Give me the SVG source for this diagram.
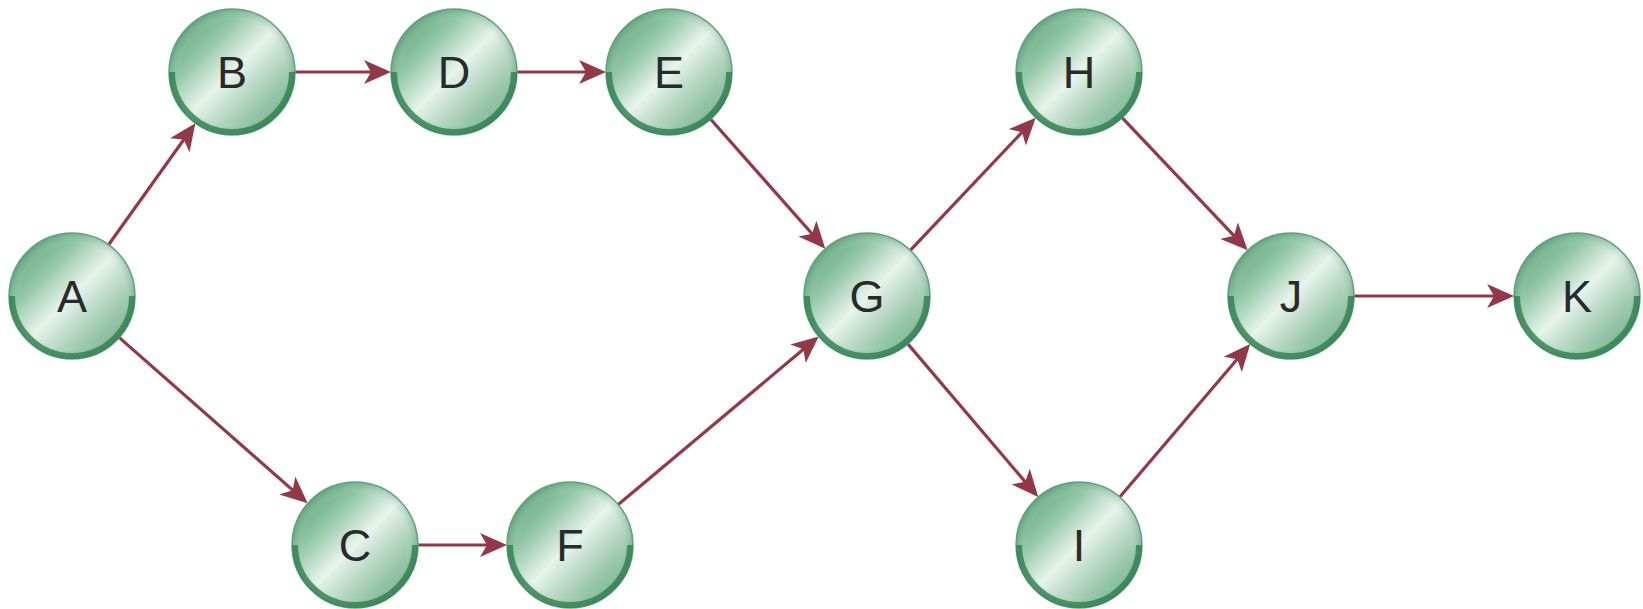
<svg xmlns="http://www.w3.org/2000/svg" width="1643" height="609" viewBox="0 0 1643 609">
<style>
.ball{fill:url(#ballGrad);stroke:#6aa684;stroke-width:1.5}
.shine{fill:url(#shineGrad)}
.rim{fill:none;stroke:#2f7f50;stroke-width:6;opacity:0.8}
.lbl{font-family:"Liberation Sans",Arial,sans-serif;font-size:45px;fill:#2a2a2a;text-anchor:middle}
.edge{stroke:#933848;stroke-width:3.2;fill:none;marker-end:url(#arr)}
</style>
<defs>
<linearGradient id="ballGrad" x1="0" y1="0" x2="1" y2="1">
<stop offset="0" stop-color="#4a966a"/>
<stop offset="0.3" stop-color="#92c6a7"/>
<stop offset="0.5" stop-color="#e8f4ec"/>
<stop offset="0.62" stop-color="#bfdcca"/>
<stop offset="0.85" stop-color="#7ab692"/>
<stop offset="1" stop-color="#52996f"/>
</linearGradient>
<radialGradient id="shineGrad" cx="0.5" cy="0.5" r="0.5">
<stop offset="0.8" stop-color="#ffffff" stop-opacity="0"/>
<stop offset="1" stop-color="#2f7f50" stop-opacity="0.25"/>
</radialGradient>
<marker id="arr" markerUnits="userSpaceOnUse" markerWidth="27" markerHeight="24" refX="21" refY="12" orient="auto">
<path d="M0,0 L27,12 L0,24 L7,12 z" fill="#933848"/>
</marker>
</defs>
<rect width="1643" height="609" fill="#ffffff"/>
<g id="connectors">
<line class="edge" x1="108.6" y1="244.7" x2="191.9" y2="128.2"/>
<line class="edge" x1="295" y1="72" x2="385" y2="72"/>
<line class="edge" x1="517" y1="72" x2="600" y2="72"/>
<line class="edge" x1="710.7" y1="119.2" x2="821.3" y2="244.3"/>
<line class="edge" x1="119.3" y1="337.6" x2="303.2" y2="499.4"/>
<line class="edge" x1="418" y1="545" x2="501" y2="545"/>
<line class="edge" x1="618.3" y1="504.5" x2="814.1" y2="340.3"/>
<line class="edge" x1="910.3" y1="250.3" x2="1031.6" y2="122.1"/>
<line class="edge" x1="907.8" y1="343.9" x2="1034.3" y2="492.5"/>
<line class="edge" x1="1122.3" y1="117.8" x2="1243.6" y2="245.9"/>
<line class="edge" x1="1119.8" y1="497" x2="1246.3" y2="348.5"/>
<line class="edge" x1="1354" y1="296" x2="1508" y2="296"/>
</g>
<g id="A" transform="translate(72,296)"><circle class="ball" r="63"/><circle class="shine" r="63"/><path class="rim" d="M-60,0 A60 60 0 0 0 60,0"/><text class="lbl" y="16">A</text></g>
<g id="B" transform="translate(232,72)"><circle class="ball" r="63"/><circle class="shine" r="63"/><path class="rim" d="M-60,0 A60 60 0 0 0 60,0"/><text class="lbl" y="16">B</text></g>
<g id="D" transform="translate(454,72)"><circle class="ball" r="63"/><circle class="shine" r="63"/><path class="rim" d="M-60,0 A60 60 0 0 0 60,0"/><text class="lbl" y="16">D</text></g>
<g id="E" transform="translate(669,72)"><circle class="ball" r="63"/><circle class="shine" r="63"/><path class="rim" d="M-60,0 A60 60 0 0 0 60,0"/><text class="lbl" y="16">E</text></g>
<g id="C" transform="translate(355,545)"><circle class="ball" r="63"/><circle class="shine" r="63"/><path class="rim" d="M-60,0 A60 60 0 0 0 60,0"/><text class="lbl" y="16">C</text></g>
<g id="F" transform="translate(570,545)"><circle class="ball" r="63"/><circle class="shine" r="63"/><path class="rim" d="M-60,0 A60 60 0 0 0 60,0"/><text class="lbl" y="16">F</text></g>
<g id="G" transform="translate(867,296)"><circle class="ball" r="63"/><circle class="shine" r="63"/><path class="rim" d="M-60,0 A60 60 0 0 0 60,0"/><text class="lbl" y="16">G</text></g>
<g id="H" transform="translate(1079,72)"><circle class="ball" r="63"/><circle class="shine" r="63"/><path class="rim" d="M-60,0 A60 60 0 0 0 60,0"/><text class="lbl" y="16">H</text></g>
<g id="I" transform="translate(1079,545)"><circle class="ball" r="63"/><circle class="shine" r="63"/><path class="rim" d="M-60,0 A60 60 0 0 0 60,0"/><text class="lbl" y="16">I</text></g>
<g id="J" transform="translate(1291,296)"><circle class="ball" r="63"/><circle class="shine" r="63"/><path class="rim" d="M-60,0 A60 60 0 0 0 60,0"/><text class="lbl" y="16">J</text></g>
<g id="K" transform="translate(1577,296)"><circle class="ball" r="63"/><circle class="shine" r="63"/><path class="rim" d="M-60,0 A60 60 0 0 0 60,0"/><text class="lbl" y="16">K</text></g>
</svg>
